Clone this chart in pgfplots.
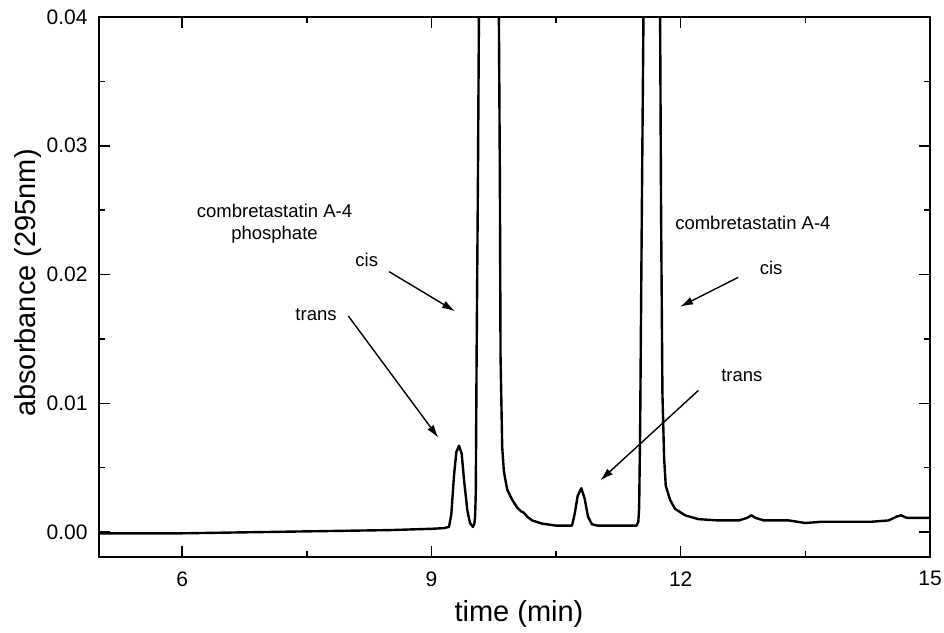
\documentclass[border=0pt]{standalone}
\usepackage{fontspec}
\setmainfont{Liberation Sans}
\usepackage{pgfplots}
\pgfplotsset{compat=1.18}
\usetikzlibrary{arrows.meta}
\begin{document}
\begin{tikzpicture}
\useasboundingbox (0,0) rectangle (944bp,633bp);
\begin{axis}[
  at={(99bp,76bp)}, anchor=south west,
  scale only axis, width=831bp, height=540bp,
  xmin=5, xmax=15, ymin=-0.00194, ymax=0.04,
  xtick={6,9,12,15}, ytick={0,0.01,0.02,0.03,0.04},
  minor xtick={7.5,10.5,13.5}, minor ytick={0.005,0.015,0.025,0.035},
  tick align=inside,
  major tick length=11bp, minor tick length=6bp,
  every tick/.style={black, line width=1.5bp},
  axis line style={line width=2.2bp},
  scaled y ticks=false,
  yticklabel style={/pgf/number format/fixed, /pgf/number format/fixed zerofill, /pgf/number format/precision=2, xshift=-8bp},
  /pgf/number format/assume math mode=true,
  ticklabel style={font=\fontsize{21bp}{25bp}\selectfont},
  xticklabel style={yshift=-11bp},
  xlabel={time (min)}, ylabel={absorbance (295nm)},
  label style={font=\fontsize{29bp}{34bp}\selectfont},
  xlabel style={at={(axis description cs:0.5054,-0.1056)}, anchor=center},
  ylabel style={at={(axis description cs:-0.0860,0.5074)}, anchor=center},
]
\addplot[black, line width=2.4bp, line join=round] coordinates {
(5.0,-0.0001) (5.5,-0.0001) (6.0,-0.0001) (6.5,-0.00005) (7.0,0.0) (7.5,0.00005)
(8.0,0.0001) (8.5,0.00015) (9.0,0.00025) (9.15,0.0003) (9.212,0.0004) (9.24,0.0014)
(9.272,0.0044) (9.30,0.0062) (9.332,0.0067) (9.364,0.0061) (9.392,0.0041) (9.432,0.0017)
(9.464,0.0007) (9.50,0.0004) (9.516,0.0006) (9.526,0.0012) (9.534,0.0030) (9.544,0.0136) (9.56,0.0274)
(9.572,0.0402) (9.58,0.05) (9.81,0.05) (9.812,0.0402) (9.824,0.0274) (9.832,0.0136)
(9.852,0.0066) (9.872,0.0047) (9.912,0.0033) (9.972,0.0025) (10.032,0.0019) (10.08,0.0016)
(10.112,0.0015) (10.152,0.0012) (10.212,0.0009) (10.332,0.00065) (10.5,0.0005) (10.692,0.0005)
(10.724,0.0014) (10.76,0.0028) (10.804,0.0034) (10.844,0.0026) (10.884,0.0012) (10.932,0.0006)
(11.0,0.0005) (11.2,0.0005) (11.47,0.0005) (11.49,0.0008) (11.50,0.0019) (11.512,0.008) (11.532,0.0247)
(11.552,0.0402) (11.56,0.05) (11.75,0.05) (11.752,0.0402) (11.764,0.0247) (11.78,0.0108)
(11.80,0.0058) (11.82,0.0036) (11.872,0.0025) (11.932,0.0018) (12.052,0.0013) (12.212,0.0010)
(12.452,0.0009) (12.7,0.0009) (12.8,0.0011) (12.85,0.0013) (12.9,0.0011) (13.0,0.0009)
(13.3,0.0009) (13.5,0.0007) (13.7,0.0008) (14.0,0.0008) (14.3,0.0008) (14.5,0.0009)
(14.6,0.0012) (14.65,0.0013) (14.72,0.0011) (14.85,0.0011) (15.0,0.0011)
};
\node[align=center, font=\fontsize{18.5bp}{22bp}\selectfont] at (axis cs:7.112,0.02392) {combretastatin A-4\\phosphate};
\node[font=\fontsize{18.5bp}{22bp}\selectfont] at (axis cs:8.222,0.02113) {cis};
\node[font=\fontsize{18.5bp}{22bp}\selectfont] at (axis cs:7.612,0.01685) {trans};
\node[font=\fontsize{18.5bp}{22bp}\selectfont] at (axis cs:12.869,0.02398) {combretastatin A-4};
\node[font=\fontsize{18.5bp}{22bp}\selectfont] at (axis cs:13.088,0.02048) {cis};
\node[font=\fontsize{18.5bp}{22bp}\selectfont] at (axis cs:12.736,0.01212) {trans};
\draw[-{Latex[length=13bp,width=8bp]}, line width=1.4bp] (axis cs:8.492,0.02022) -- (axis cs:9.284,0.01715);
\draw[-{Latex[length=13bp,width=8bp]}, line width=1.4bp] (axis cs:8.0,0.01678) -- (axis cs:9.084,0.00732);
\draw[-{Latex[length=13bp,width=8bp]}, line width=1.4bp] (axis cs:12.692,0.01978) -- (axis cs:11.993,0.0175);
\draw[-{Latex[length=13bp,width=8bp]}, line width=1.4bp] (axis cs:12.212,0.01099) -- (axis cs:11.032,0.00401);
\end{axis}
\end{tikzpicture}
\end{document}
